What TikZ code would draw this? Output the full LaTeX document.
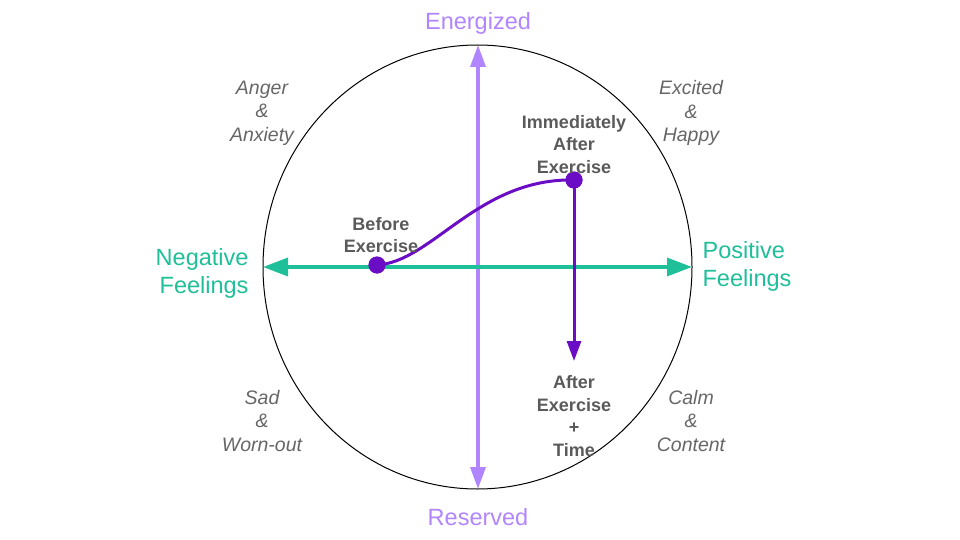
\documentclass[tikz,border=0pt]{standalone}
\usepackage{fontspec}
\setmainfont{Liberation Sans}
\usetikzlibrary{arrows.meta}
\definecolor{feelgreen}{HTML}{1FBF99}
\definecolor{energypurple}{HTML}{B185FF}
\definecolor{movepurple}{HTML}{6A0DC4}
\definecolor{moodgray}{HTML}{666666}
\definecolor{stagegray}{HTML}{5A5A5A}
\tikzset{
  dot/.style={
    circle,
    fill=movepurple,
    minimum size=17pt,
    inner sep=0pt,
  },
  axislabel/.style={font=\fontsize{23.5}{28}\selectfont},
  mood/.style={font=\itshape\fontsize{19.5}{23.5}\selectfont, text=moodgray, align=center},
  stage/.style={font=\bfseries\fontsize{18}{22.5}\selectfont, text=stagegray, align=center},
}

\begin{document}
\begin{tikzpicture}[x=1pt, y=-1pt]
  \useasboundingbox (0, 0) rectangle (960, 540);
  \draw[line width=1pt] (477.5, 267) ellipse [x radius=214.5, y radius=222];

  \coordinate (top) at (478, 45);
  \coordinate (bottom) at (478, 489);
  \coordinate (left) at (263, 267);
  \coordinate (right) at (692, 267);
  \coordinate (later) at (574, 361);

  \draw[energypurple, line width=3.5pt, {Triangle[length=22pt, width=15pt]}-{Triangle[length=22pt, width=15pt]}] (bottom) -- (top);
  \draw[feelgreen, line width=3.5pt, {Triangle[length=25pt, width=18pt]}-{Triangle[length=25pt, width=18pt]}] (left) -- (right);

  \node[axislabel, text=energypurple] (energized) at (478, 23) {Energized};
  \node[axislabel, text=energypurple] (reserved) at (478, 517) {Reserved};
  \node[axislabel, text=feelgreen, align=right, anchor=east] (negative) at (252, 273) {Negative\\Feelings};
  \node[axislabel, text=feelgreen, align=left] (positive) at (747, 266) {Positive\\Feelings};

  \node[mood] (anger) at (262, 113) {Anger\\\&\\Anxiety};
  \node[mood] (excited) at (691, 113) {Excited\\\&\\Happy};
  \node[mood] (sad) at (262, 421) {Sad\\\&\\Worn-out};
  \node[mood] (calm) at (691, 421) {Calm\\\&\\Content};

  \node[dot] (before) at (377, 265) {};
  \node[dot] (after) at (574, 180) {};
  \draw[movepurple, line width=3pt] (before.center) .. controls (432, 262) and (478, 178) .. (after.center);
  \draw[movepurple, line width=3pt, -{Triangle[length=20pt, width=14pt]}] (after.center) -- (later);
  \node[dot] at (before) {};
  \node[dot] at (after) {};

  \node[stage] (beforetext) at (381, 235) {Before\\Exercise};
  \node[stage] (aftertext) at (574, 144.5) {Immediately\\After\\Exercise};
  \node[stage] (latertext) at (574, 416) {After\\Exercise\\+\\Time};
\end{tikzpicture}
\end{document}
